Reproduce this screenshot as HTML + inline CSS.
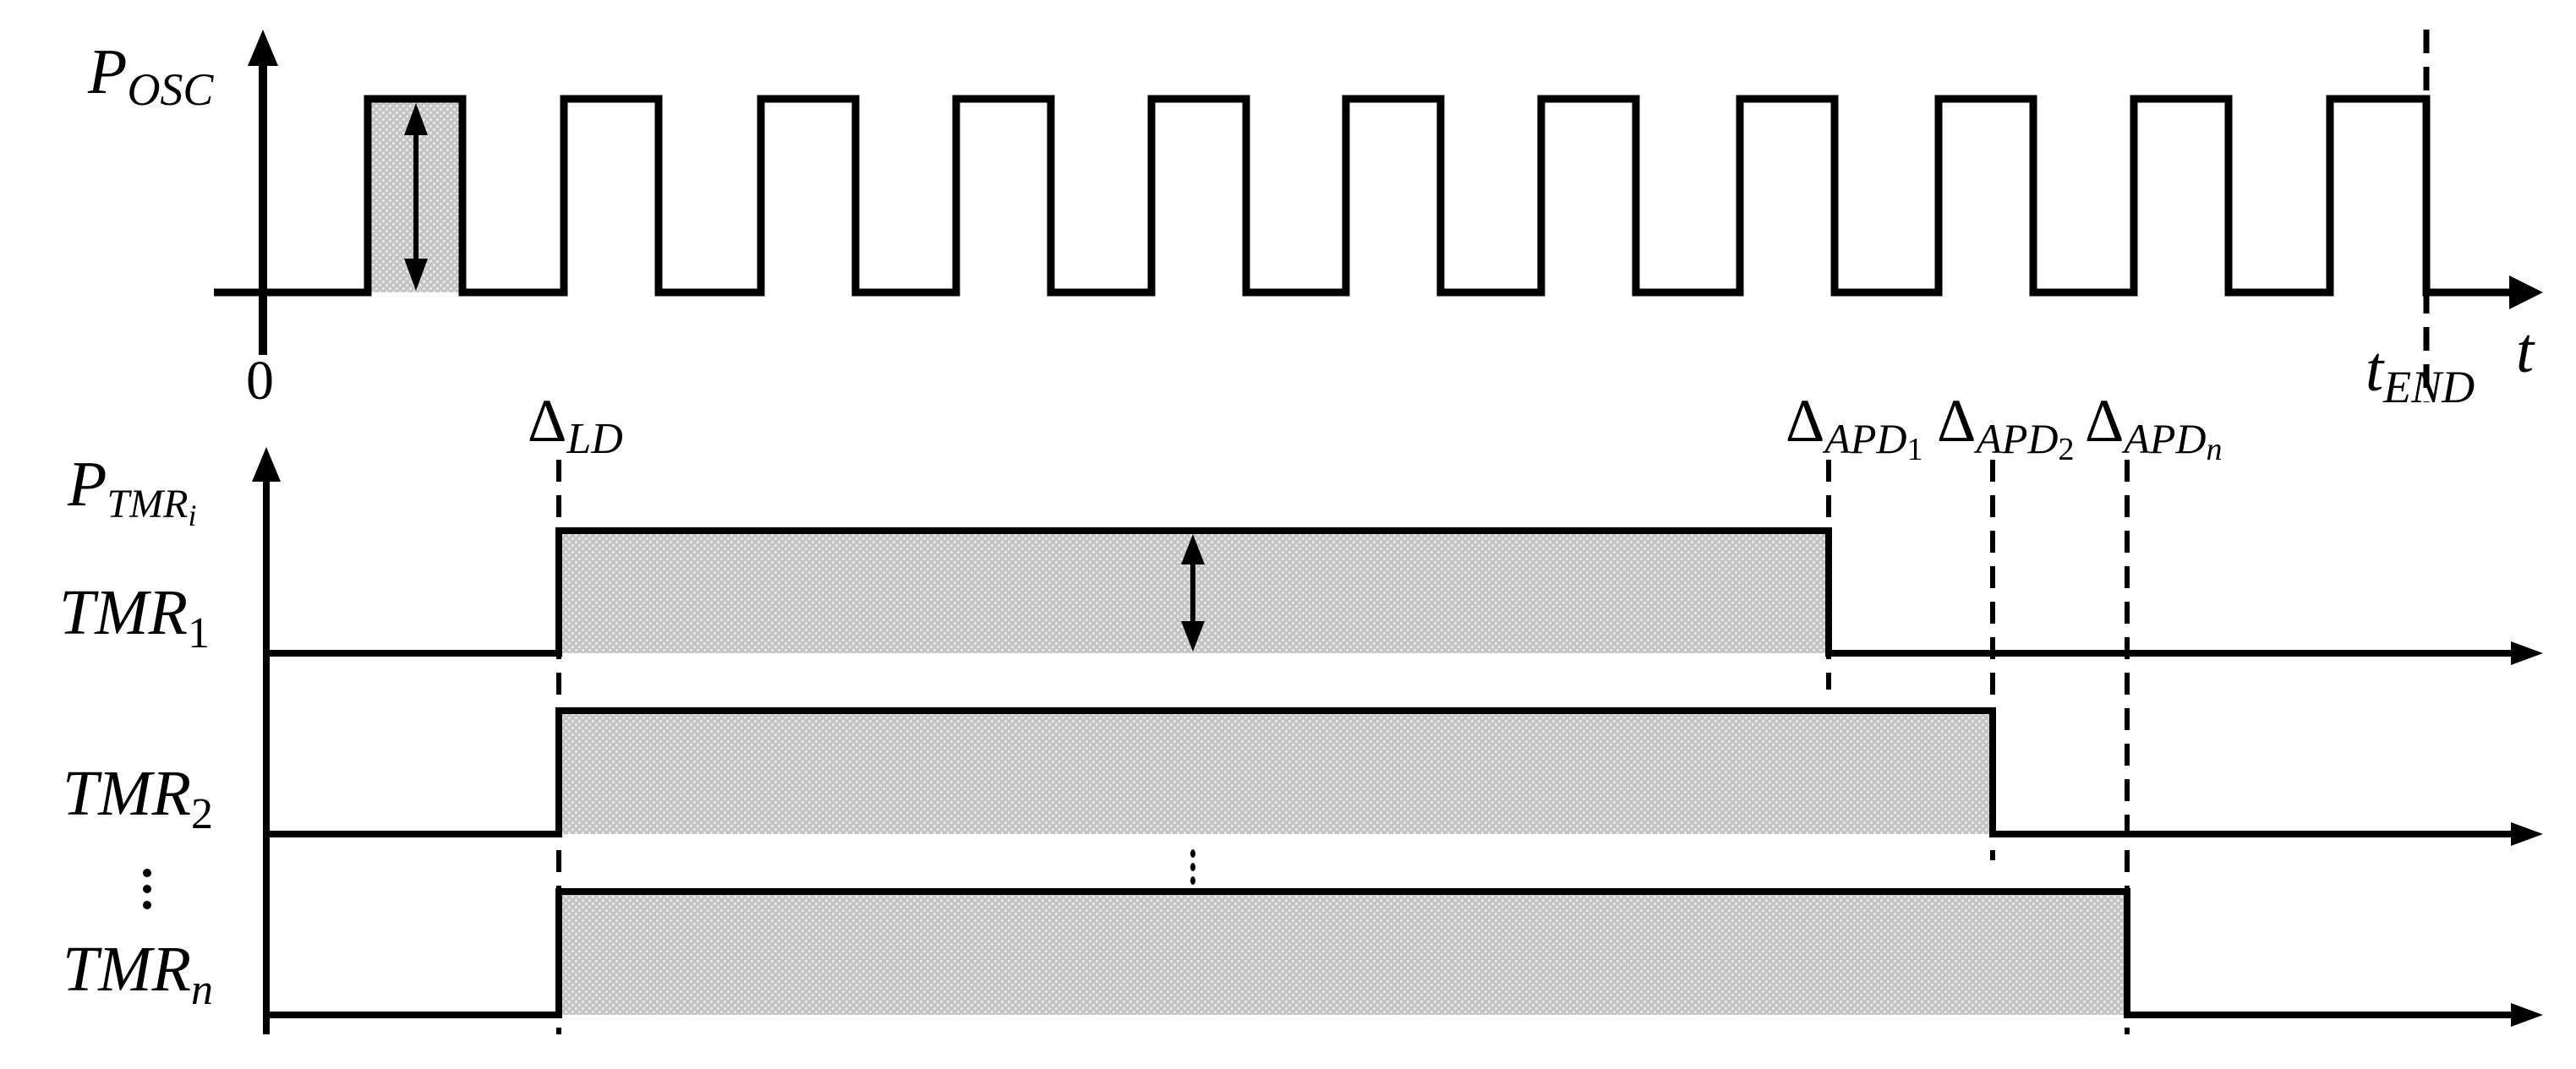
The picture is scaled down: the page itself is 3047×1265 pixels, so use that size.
<!DOCTYPE html>
<html><head><meta charset="utf-8"><style>
html,body{margin:0;padding:0;background:#fff;}
svg{display:block;}
text{font-family:"Liberation Serif",serif;font-style:italic;fill:#000;}
.n{font-style:normal;}
</style></head><body>
<svg width="3047" height="1265" viewBox="0 0 3047 1265" xmlns="http://www.w3.org/2000/svg">
<defs>
<pattern id="chk" width="8" height="8" patternUnits="userSpaceOnUse">
<rect width="8" height="8" fill="#c4c4c4"/>
<rect x="0" y="0" width="3" height="3" fill="#e6e6e6"/>
<rect x="4" y="4" width="3" height="3" fill="#e6e6e6"/>
</pattern>
</defs>
<!-- TOP -->
<line x1="311" y1="75" x2="311" y2="420" stroke="#000" stroke-width="10"/>
<polygon points="311,35 293,78 329,78" fill="#000"/>
<rect x="431" y="117" width="119" height="229" fill="url(#chk)"/>
<polyline fill="none" stroke="#000" stroke-width="9" stroke-linejoin="miter"
points="253,346 435,346 435,117 547,117 547,346 667,346 667,117 779,117 779,346 900,346 900,117 1012,117 1012,346 1131,346 1131,117 1243,117 1243,346 1362,346 1362,117 1474,117 1474,346 1592,346 1592,117 1704,117 1704,346 1823,346 1823,117 1935,117 1935,346 2058,346 2058,117 2170,117 2170,346 2293,346 2293,117 2405,117 2405,346 2524,346 2524,117 2636,117 2636,346 2756,346 2756,117 2870,117 2870,346 2975,346"/>
<polygon points="3008,346 2968,326 2968,366" fill="#000"/>
<line x1="2870" y1="35" x2="2870" y2="476" stroke="#000" stroke-width="7" stroke-dasharray="28,16"/>
<line x1="492" y1="160" x2="492" y2="310" stroke="#000" stroke-width="6"/>
<polygon points="492,122 478,160 506,160" fill="#000"/>
<polygon points="492,344 478,306 506,306" fill="#000"/>
<text x="104" y="110" font-size="76">P<tspan font-size="54" dy="14">OSC</tspan></text>
<text x="291" y="472" font-size="66" class="n">0</text>
<text x="2976" y="440" font-size="76">t</text>
<text x="2798" y="462" font-size="76">t<tspan font-size="54" dy="14">END</tspan></text>
<!-- BOTTOM -->
<line x1="315" y1="570" x2="315" y2="1224" stroke="#000" stroke-width="8"/>
<polygon points="315,529 298,570 332,570" fill="#000"/>
<rect x="661" y="628" width="1502" height="145" fill="url(#chk)"/>
<rect x="661" y="841" width="1696" height="146" fill="url(#chk)"/>
<rect x="661" y="1055" width="1855" height="146" fill="url(#chk)"/>
<g fill="none" stroke="#000" stroke-width="8">
<polyline points="315,773 661,773 661,628 2163,628 2163,773 2975,773"/>
<polyline points="315,987 661,987 661,841 2357,841 2357,987 2975,987"/>
<polyline points="315,1201 661,1201 661,1055 2516,1055 2516,1201 2975,1201"/>
</g>
<polygon points="3008,773 2970,759 2970,787" fill="#000"/>
<polygon points="3008,987 2970,973 2970,1001" fill="#000"/>
<polygon points="3008,1201 2970,1187 2970,1215" fill="#000"/>
<g stroke="#000" stroke-width="6" stroke-dasharray="26,16">
<line x1="661" y1="544" x2="661" y2="1224"/>
<line x1="2163" y1="544" x2="2163" y2="816"/>
<line x1="2357" y1="544" x2="2357" y2="1018"/>
<line x1="2516" y1="544" x2="2516" y2="1224"/>
</g>
<line x1="1411" y1="665" x2="1411" y2="740" stroke="#000" stroke-width="6"/>
<polygon points="1411,632 1397,668 1425,668" fill="#000"/>
<polygon points="1411,771 1397,735 1425,735" fill="#000"/>
<g fill="#000">
<ellipse cx="1411" cy="1010" rx="3" ry="5"/><ellipse cx="1411" cy="1026" rx="3" ry="5"/><ellipse cx="1411" cy="1042" rx="3" ry="5"/>
<circle cx="174" cy="1033" r="5"/><circle cx="174" cy="1052" r="5"/><circle cx="174" cy="1071" r="5"/>
</g>
<text x="624" y="522" font-size="72"><tspan class="n">Δ</tspan><tspan font-size="52" dy="14">LD</tspan></text>
<text x="2112" y="522" font-size="72"><tspan class="n">Δ</tspan><tspan font-size="50" dy="14">APD</tspan><tspan font-size="38" class="n" dy="8">1</tspan></text>
<text x="2291" y="522" font-size="72"><tspan class="n">Δ</tspan><tspan font-size="50" dy="14">APD</tspan><tspan font-size="38" class="n" dy="8">2</tspan></text>
<text x="2466" y="522" font-size="72"><tspan class="n">Δ</tspan><tspan font-size="50" dy="14">APD</tspan><tspan font-size="38" dy="8">n</tspan></text>
<text x="80" y="598" font-size="76">P<tspan font-size="48" dy="14">TMR</tspan><tspan font-size="36" dy="10">i</tspan></text>
<text x="70" y="750" font-size="76">TMR<tspan font-size="52" class="n" dy="16">1</tspan></text>
<text x="74" y="964" font-size="76">TMR<tspan font-size="52" class="n" dy="16">2</tspan></text>
<text x="74" y="1172" font-size="76">TMR<tspan font-size="52" dy="16">n</tspan></text>
</svg>
</body></html>
